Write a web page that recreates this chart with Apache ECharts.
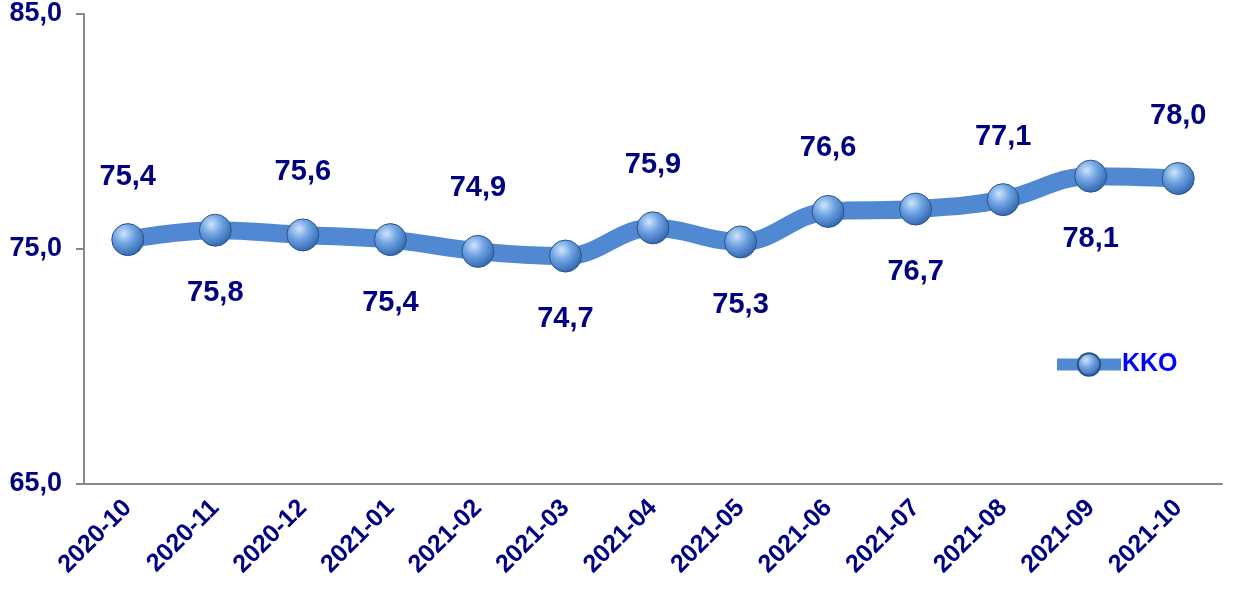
<!DOCTYPE html>
<html lang="en">
  <head>
    <meta charset="UTF-8" />
    <title>KKO</title>
    <script src="https://cdn.jsdelivr.net/npm/echarts@6.0.0/dist/echarts.min.js"></script>
    <style>
      body { margin: 0; background: #fff; }
    </style>
  </head>
  <body>
    <div id="main" style="width: 1249px; height: 592px"></div>
    <script type="text/javascript">
      // chart data
      const months = ["2020-10", "2020-11", "2020-12", "2021-01", "2021-02", "2021-03", "2021-04",
        "2021-05", "2021-06", "2021-07", "2021-08", "2021-09", "2021-10"];
      const kko = [75.4, 75.8, 75.6, 75.4, 74.9, 74.7, 75.9, 75.3, 76.6, 76.7, 77.1, 78.1, 78.0];
      const yTicks = [65, 75, 85];

      const navy = "#000080";
      const fmt = (v) => Number(v).toFixed(1).replace(".", ",");

      // labels alternate above / below the line
      const points = kko.map((v, i) => ({
        value: v,
        label: { position: i % 2 === 0 ? "top" : "bottom" },
      }));

      const sphere = {
        type: "radial",
        x: 0.38, y: 0.32, r: 0.7,
        colorStops: [
          { offset: 0, color: "#cfe4fb" },
          { offset: 0.45, color: "#6fa3e3" },
          { offset: 1, color: "#2f65ad" },
        ],
      };

      let myChart = echarts.init(document.getElementById("main"));

      let options = {
        animation: false,
        grid: { left: 84, right: 27, top: 14, bottom: 108 },
        legend: {
          left: 1046, top: 347,
          itemWidth: 64, itemHeight: 28,
          itemGap: 0,
          lineStyle: { width: 12, color: "#5089d1" },
          textStyle: { color: "#0000ff", fontSize: 25, fontWeight: "bold", fontFamily: "Liberation Sans", padding: [0, 0, 0, -4] },
        },
        xAxis: {
          type: "category",
          data: months,
          boundaryGap: true,
          axisLine: { lineStyle: { color: "#888", width: 2 } },
          axisTick: { length: 6, lineStyle: { color: "#888", width: 2 } },
          axisLabel: {
            rotate: 45, margin: 20, color: navy,
            fontSize: 25, fontWeight: "bold", fontFamily: "Liberation Sans",
          },
        },
        yAxis: {
          type: "value",
          min: yTicks[0], max: yTicks[yTicks.length - 1], interval: 10,
          axisLine: { show: true, lineStyle: { color: "#888", width: 2 } },
          axisTick: { show: true, length: 8, lineStyle: { color: "#888", width: 2 } },
          splitLine: { show: false },
          axisLabel: {
            margin: 22, color: navy, formatter: fmt,
            fontSize: 27, fontWeight: "bold", fontFamily: "Liberation Sans",
          },
        },
        series: [
          {
            name: "KKO",
            type: "line",
            smooth: 0.4,
            data: points,
            lineStyle: { color: "#5089d1", width: 18 },
            symbol: "circle",
            symbolSize: 32,
            itemStyle: { color: sphere, borderColor: "#2b5486", borderWidth: 1 },
            label: {
              show: true, distance: 32, color: navy, formatter: (p) => fmt(p.value),
              fontSize: 29, fontWeight: "bold", fontFamily: "Liberation Sans",
            },
          },
        ],
      };

      myChart.setOption(options);
    </script>
  </body>
</html>
